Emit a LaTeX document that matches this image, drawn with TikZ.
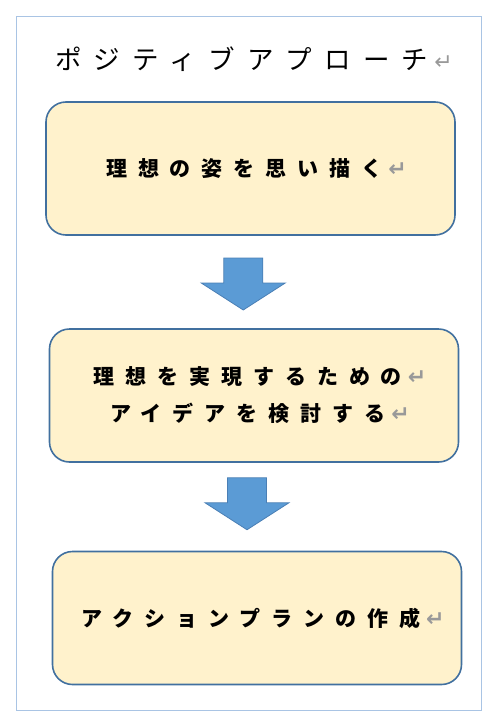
\documentclass[tikz,border=0pt]{standalone}
\usepackage{fontspec}
\usetikzlibrary{calc}
\newfontfamily\titlefont[LetterSpace=46]{Noto Sans CJK JP}
\newfontfamily\boxfont[LetterSpace=52]{Noto Sans CJK JP}
\newfontfamily\markfont{DejaVu Sans}
\definecolor{boxfill}{HTML}{FFF2CC}
\definecolor{boxline}{HTML}{41709F}
\definecolor{arrowfill}{HTML}{5B9BD5}
\definecolor{arrowline}{HTML}{4A7FB5}
\definecolor{frameline}{HTML}{A9C4E4}
\definecolor{markgray}{HTML}{999999}
\newcommand\parmark{{\markfont\fontsize{22}{22}\selectfont\hspace{6pt}\textcolor{markgray}{↵}}}
\newcommand\leadin{\hspace*{12pt}}
\tikzset{
  stepbox/.style={draw=boxline, fill=boxfill, line width=1.6pt, rounded corners=20pt,
    minimum width=409pt, minimum height=133pt, align=center, inner sep=0pt,
    font=\boxfont\bfseries\fontsize{21}{37}\selectfont},
  arrowshape/.style={draw=arrowline, fill=arrowfill, line width=0.8pt},
  downarrow/.pic={
    \draw[arrowshape] (-19.5,-26) -- (19.5,-26) -- (19.5,-1) -- (42,-1)
      -- (0,26) -- (-42,-1) -- (-19.5,-1) -- cycle;
  }
}
\begin{document}
\begin{tikzpicture}[x=1pt,y=-1pt]
  \useasboundingbox (0,0) rectangle (500,720);
  % 外枠
  \draw[frameline, line width=0.9pt] (16,16) rectangle (481,710);

  % タイトル
  \node[anchor=west, inner sep=0pt, font=\titlefont\fontsize{26.5}{27}\selectfont]
    (title) at (55,59) {ポジティブアプローチ\parmark};

  % 三つのステップ
  \node[stepbox] (ideal) at (250.5,168.5) {\leadin 理想の姿を思い描く\parmark};
  \node[stepbox] (idea) at (254,395.5) {\leadin 理想を実現するための\parmark\\\leadin アイデアを検討する\parmark};
  \node[stepbox] (plan) at (257,618) {\leadin アクションプランの作成\parmark};

  % 矢印
  \pic at ($(ideal.south)!0.5!(idea.north)+(-9,2)$) {downarrow};
  \pic at ($(idea.south)!0.5!(plan.north)+(-8.5,-3)$) {downarrow};
\end{tikzpicture}
\end{document}
